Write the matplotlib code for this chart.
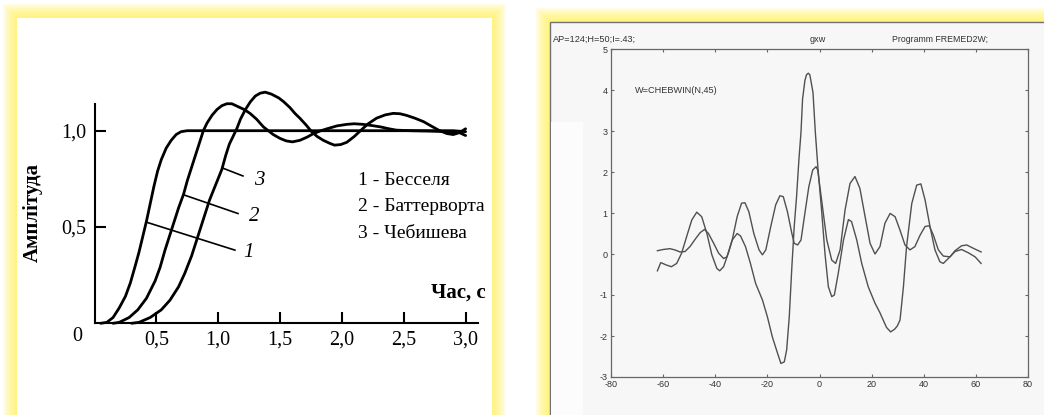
import matplotlib
matplotlib.use("Agg")
import matplotlib.pyplot as plt
from matplotlib.patches import Rectangle

plt.rcParams["axes.unicode_minus"] = False


# --------------------------------------------------
# 1. DATA
# --------------------------------------------------

# left panel: step responses of the three filters
bessel_t = [0.05, 0.10, 0.15, 0.20, 0.25, 0.29, 0.33, 0.36, 0.39, 0.42,
            0.45, 0.48, 0.51, 0.54, 0.58, 0.62, 0.66, 0.70, 0.75, 1.0,
            2.0, 2.9, 3.0]
bessel_a = [0.0, 0.005, 0.03, 0.08, 0.14, 0.21, 0.30, 0.37, 0.45, 0.53,
            0.62, 0.71, 0.79, 0.85, 0.91, 0.95, 0.98, 0.995, 1.0, 1.0,
            1.0, 1.0, 0.995]

butter_t = [0.15, 0.20, 0.28, 0.35, 0.42, 0.49, 0.53, 0.57, 0.61, 0.64,
            0.68, 0.72, 0.75, 0.785, 0.82, 0.85, 0.88, 0.91, 0.95, 0.99,
            1.03, 1.07, 1.11, 1.16, 1.21, 1.257, 1.31, 1.365, 1.405, 1.445,
            1.50, 1.55, 1.60, 1.66, 1.72, 1.77, 1.83, 1.88, 1.96, 2.04,
            2.10, 2.17, 2.24, 2.31, 2.38, 2.44, 2.55, 2.70, 2.85, 2.95,
            3.0]
butter_a = [0.0, 0.005, 0.03, 0.07, 0.13, 0.22, 0.29, 0.38, 0.46, 0.52,
            0.60, 0.67, 0.74, 0.81, 0.88, 0.94, 1.0, 1.04, 1.08, 1.11,
            1.13, 1.14, 1.14, 1.125, 1.11, 1.09, 1.06, 1.02, 1.0, 0.98,
            0.96, 0.947, 0.942, 0.95, 0.967, 0.985, 1.0, 1.01, 1.025, 1.033,
            1.036, 1.033, 1.027, 1.02, 1.01, 1.003, 1.0, 0.998, 0.995, 0.99,
            0.975]

cheb_t = [0.30, 0.36, 0.45, 0.54, 0.61, 0.68, 0.73, 0.785, 0.82, 0.85,
          0.89, 0.93, 0.98, 1.03, 1.06, 1.09, 1.12, 1.15, 1.18, 1.22,
          1.26, 1.30, 1.34, 1.38, 1.43, 1.49, 1.53, 1.58, 1.62, 1.66,
          1.71, 1.755, 1.80, 1.85, 1.90, 1.94, 1.99, 2.04, 2.10, 2.15,
          2.21, 2.28, 2.35, 2.415, 2.47, 2.52, 2.59, 2.66, 2.72, 2.79,
          2.85, 2.90, 2.95, 3.0]
cheb_a = [0.0, 0.005, 0.03, 0.07, 0.12, 0.19, 0.26, 0.35, 0.42, 0.48,
          0.56, 0.64, 0.72, 0.80, 0.87, 0.93, 0.97, 1.01, 1.06, 1.11,
          1.15, 1.18, 1.195, 1.20, 1.19, 1.17, 1.15, 1.12, 1.09, 1.065,
          1.03, 0.995, 0.97, 0.95, 0.935, 0.925, 0.928, 0.94, 0.97, 1.0,
          1.035, 1.065, 1.082, 1.09, 1.088, 1.08, 1.065, 1.047, 1.025, 1.0,
          0.985, 0.98, 0.99, 1.01]

x_ticks_left = [0.5, 1.0, 1.5, 2.0, 2.5, 3.0]
x_labels_left = ["0,5", "1,0", "1,5", "2,0", "2,5", "3,0"]
y_ticks_left = [0.5, 1.0]
y_labels_left = ["0,5", "1,0"]

legend_lines = ["1 - Бесселя", "2 - Баттерворта", "3 - Чебишева"]

# leader lines: (start on curve) -> (end near number)
leader_start = [(0.42, 0.525), (0.73, 0.665), (1.04, 0.805)]
leader_end = [(1.135, 0.38), (1.16, 0.57), (1.20, 0.765)]
leader_text = [(1.20, 0.37), (1.25, 0.555), (1.29, 0.74)]
leader_names = ["1", "2", "3"]

# right panel: two scanned MATLAB curves
wave_a_x = [-62.2, -60.9, -58.7, -56.8, -54.8, -52.9, -51.0, -49.0, -47.1,
            -45.2, -43.2, -41.3, -39.4, -38.3, -36.8, -34.8, -33.5, -31.6,
            -30.3, -28.4, -26.5, -24.5, -21.9, -20.0, -18.1, -16.1, -14.8,
            -13.5, -12.6, -11.6, -10.6, -9.7, -8.8, -7.9, -7.1, -6.5, -5.6,
            -5.0, -4.3, -3.7, -2.5, -1.6, -0.6, 0.8, 2.1, 3.4, 4.7, 5.7,
            7.2, 9.2, 11.1, 12.3, 14.3, 16.2, 18.7, 21.3, 23.1, 25.7, 27.3,
            28.9, 29.9, 30.9, 32.2, 33.4, 35.4, 37.3, 38.9, 40.5, 42.4,
            44.3, 46.2, 47.5, 49.4, 52.0, 54.5, 57.1, 59.7, 62.0]
wave_a_y = [-0.41, -0.21, -0.27, -0.31, -0.23, 0.02, 0.42, 0.83, 1.02,
            0.91, 0.50, -0.02, -0.35, -0.41, -0.31, 0.06, 0.34, 0.50,
            0.44, 0.18, -0.23, -0.72, -1.12, -1.53, -2.02, -2.42, -2.67,
            -2.63, -2.34, -1.53, -0.31, 0.67, 1.40, 2.30, 2.97, 3.78, 4.23,
            4.37, 4.41, 4.37, 3.94, 2.97, 2.10, 1.07, 0.01, -0.80, -1.04,
            -1.00, -0.47, 0.34, 0.84, 0.79, 0.34, -0.23, -0.80, -1.20,
            -1.42, -1.79, -1.90, -1.83, -1.75, -1.61, -0.80, 0.18, 1.23,
            1.68, 1.71, 1.32, 0.67, 0.10, -0.19, -0.23, -0.11, 0.06, 0.11,
            0.03, -0.07, -0.23]

wave_b_x = [-62.2, -60.0, -57.4, -55.5, -53.5, -51.6, -49.7, -47.7, -45.8,
            -44.1, -42.6, -40.6, -38.7, -36.8, -35.5, -33.5, -31.6, -29.9,
            -28.6, -27.1, -25.2, -23.2, -21.9, -20.6, -18.7, -16.8, -15.2,
            -13.9, -12.3, -10.6, -9.7, -8.4, -7.1, -5.8, -4.1, -2.6, -1.3,
            -0.7, 0.8, 2.8, 4.7, 6.2, 7.9, 9.8, 11.7, 13.6, 15.5, 17.5,
            19.4, 21.3, 23.2, 25.1, 27.1, 29.0, 30.9, 32.8, 34.7, 36.6,
            38.6, 40.5, 42.1, 43.7, 45.6, 47.5, 50.1, 52.0, 54.5, 56.5,
            59.0, 62.0]
wave_b_y = [0.08, 0.11, 0.13, 0.10, 0.05, 0.06, 0.18, 0.36, 0.52,
            0.60, 0.50, 0.26, 0.02, -0.11, -0.07, 0.34, 0.91, 1.24,
            1.25, 1.03, 0.50, 0.10, -0.02, 0.10, 0.67, 1.20, 1.42,
            1.40, 1.03, 0.50, 0.26, 0.22, 0.34, 0.91, 1.64, 2.05, 2.13,
            2.05, 1.32, 0.34, -0.15, -0.23, 0.10, 1.07, 1.72, 1.89, 1.60,
            0.91, 0.26, 0.00, 0.18, 0.75, 0.99, 0.91, 0.58, 0.22, 0.10,
            0.18, 0.46, 0.67, 0.69, 0.46, 0.10, -0.05, -0.07, 0.08, 0.20,
            0.22, 0.14, 0.05]

x_ticks_right = [-80, -60, -40, -20, 0, 20, 40, 60, 80]
y_ticks_right = [-3, -2, -1, 0, 1, 2, 3, 4, 5]


# --------------------------------------------------
# 2. FIGURE AND FRAMES
# --------------------------------------------------

W, H = 1044, 415
fig = plt.figure(figsize=(W / 100, H / 100), dpi=100)
fig.patch.set_facecolor("white")


def px_box(x0, y0, x1, y1):
    # pixel box (top-left origin) -> figure fraction rect
    return [x0 / W, 1 - y1 / H, (x1 - x0) / W, (y1 - y0) / H]


def glow_frame(x0, y0, x1, y1, inner_color, edge=None):
    for pad in range(14, 0, -2):
        l, b, w, h = px_box(x0 - pad, y0 - pad, x1 + pad, y1 + pad)
        fig.patches.append(Rectangle((l, b), w, h, transform=fig.transFigure,
                                     facecolor="#fff04a", edgecolor="none",
                                     alpha=0.15, zorder=-20))
    l, b, w, h = px_box(x0, y0, x1, y1)
    fig.patches.append(Rectangle((l, b), w, h, transform=fig.transFigure,
                                 facecolor=inner_color,
                                 edgecolor=edge if edge else "none",
                                 linewidth=1.0, zorder=-10))


glow_frame(17, 18, 492, 430, "white")
glow_frame(550, 22, 1060, 430, "#f7f7f7", edge="#707070")

# whiter scan strip on the left of the right panel
l, b, w, h = px_box(551, 122, 583, 430)
fig.patches.append(Rectangle((l, b), w, h, transform=fig.transFigure,
                             facecolor="#fcfcfc", edgecolor="none", zorder=-9))


# --------------------------------------------------
# 3. LEFT PANEL
# --------------------------------------------------

serif = "Liberation Serif"

ax1 = fig.add_axes(px_box(94.5, 323.3 - 1.14 * 192.6, 94.5 + 3.1 * 123.7, 323.3))
ax1.set_facecolor("none")
ax1.set_xlim(0, 3.1)
ax1.set_ylim(0, 1.14)

for name in ["top", "right"]:
    ax1.spines[name].set_visible(False)
for name in ["left", "bottom"]:
    ax1.spines[name].set_linewidth(1.5)

ax1.plot(bessel_t, bessel_a, color="black", lw=2.0, solid_capstyle="round",
         clip_on=False)
ax1.plot(butter_t, butter_a, color="black", lw=2.0, solid_capstyle="round",
         clip_on=False)
ax1.plot(cheb_t, cheb_a, color="black", lw=2.0, solid_capstyle="round",
         clip_on=False)

for (xs, ys), (xe, ye), (xt, yt), name in zip(leader_start, leader_end,
                                             leader_text, leader_names):
    ax1.plot([xs, xe], [ys, ye], color="black", lw=1.2, clip_on=False)
    ax1.text(xt, yt, name, fontsize=15, family=serif, style="italic",
             ha="left", va="center")

ax1.set_xticks(x_ticks_left)
ax1.set_xticklabels(x_labels_left)
ax1.set_yticks(y_ticks_left)
ax1.set_yticklabels(y_labels_left)
ax1.tick_params(axis="both", direction="in", length=8, width=1.5,
                labelsize=14.5)
ax1.tick_params(axis="x", pad=5)
ax1.tick_params(axis="y", pad=6)
for lab in ax1.get_xticklabels() + ax1.get_yticklabels():
    lab.set_family(serif)

ax1.text(-0.14, -0.07, "0", fontsize=14.5, family=serif,
         ha="center", va="center")

fig.text(33 / W, 1 - 213 / H, "Амплітуда", rotation=90, fontsize=15,
         family=serif, fontweight="bold", ha="center", va="center")
fig.text(486 / W, 1 - 293 / H, "Час, с", fontsize=15, family=serif,
         fontweight="bold", ha="right", va="center")

for i, line in enumerate(legend_lines):
    fig.text(358 / W, 1 - (180 + 26.5 * i) / H, line, fontsize=14,
             family=serif, ha="left", va="center")


# --------------------------------------------------
# 4. RIGHT PANEL
# --------------------------------------------------

sans = "Liberation Sans"
ink = "#333333"

ax2 = fig.add_axes(px_box(611, 49, 1028, 377))
ax2.set_facecolor("none")
ax2.set_xlim(-80, 80)
ax2.set_ylim(-3, 5)

ax2.plot(wave_a_x, wave_a_y, color="#505050", lw=1.0)
ax2.plot(wave_b_x, wave_b_y, color="#505050", lw=1.0)

for spine in ax2.spines.values():
    spine.set_color("#666666")
    spine.set_linewidth(0.9)

ax2.set_xticks(x_ticks_right)
ax2.set_yticks(y_ticks_right)
ax2.tick_params(axis="both", direction="in", length=2.5, width=0.8,
                colors="#666666", labelcolor=ink, labelsize=6.5,
                top=True, right=True, pad=2.5)
for lab in ax2.get_xticklabels() + ax2.get_yticklabels():
    lab.set_family(sans)

ax2.text(-70.8, 4.0, "W=CHEBWIN(N,45)", fontsize=6.6, family=sans, color=ink,
         ha="left", va="center")

fig.text(553 / W, 1 - 39 / H, "AP=124;H=50;I=.43;", fontsize=6.6,
         family=sans, color=ink, ha="left", va="center")
fig.text(810 / W, 1 - 39 / H, "gxw", fontsize=6.6, family=sans, color=ink,
         ha="left", va="center")
fig.text(892 / W, 1 - 39 / H, "Programm FREMED2W;", fontsize=6.3,
         family=sans, color=ink, ha="left", va="center")


# --------------------------------------------------
# 5. SAVE
# --------------------------------------------------

fig.savefig("out.png", dpi=100)
